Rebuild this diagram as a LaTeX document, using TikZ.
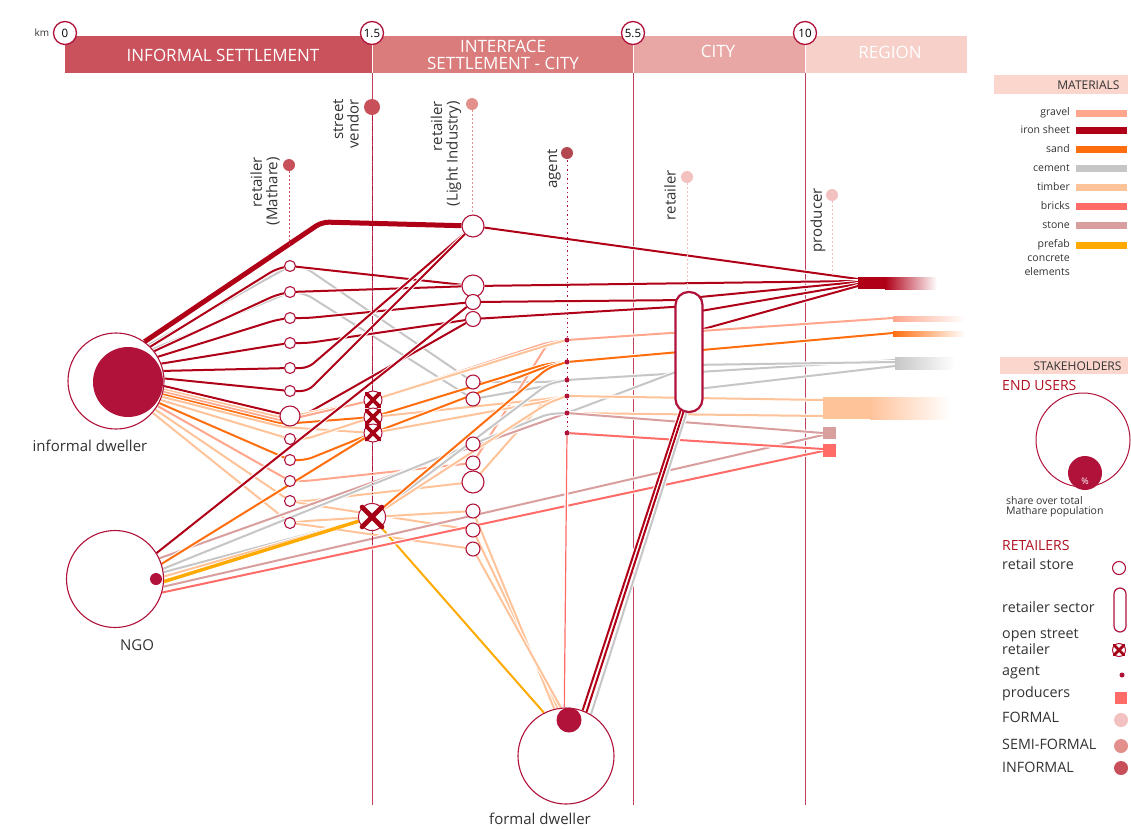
\documentclass[tikz,border=0pt]{standalone}
\usepackage{fontspec}
\setmainfont{Open Sans}
\usetikzlibrary{calc}
\pgfdeclarelayer{back}
\pgfdeclarelayer{flows}
\pgfsetlayers{back,flows,main}
\definecolor{nodec}{HTML}{B0123A}
\definecolor{ironc}{HTML}{B00018}
\definecolor{gravelc}{HTML}{FFA68C}
\definecolor{sandc}{HTML}{FF6E0E}
\definecolor{cementc}{HTML}{C6C6C6}
\definecolor{timberc}{HTML}{FFC39A}
\definecolor{bricksc}{HTML}{FF6B66}
\definecolor{stonec}{HTML}{D99E9E}
\definecolor{prefabc}{HTML}{FFAA00}
\definecolor{hdrA}{HTML}{C9525C}
\definecolor{hdrB}{HTML}{DA7C7C}
\definecolor{hdrC}{HTML}{E8A7A5}
\definecolor{hdrD}{HTML}{F6D0C9}
\definecolor{boxc}{HTML}{FAD6CC}
\definecolor{informalc}{HTML}{C8505A}
\definecolor{semic}{HTML}{E38F8C}
\definecolor{formalc}{HTML}{F3C2C0}
\definecolor{txt}{HTML}{333333}
\definecolor{xred}{HTML}{A50015}
\definecolor{redtxt}{HTML}{B01020}
\definecolor{bndc}{HTML}{C0405A}
\begin{document}
\begin{tikzpicture}[x=1pt,y=-1pt,
  fl/.style={line width=2pt, rounded corners=7pt, preaction={draw=white,line width=4pt}},
  iron/.style={fl,draw=ironc},
  grav/.style={fl,draw=gravelc},
  sand/.style={fl,draw=sandc},
  cem/.style={fl,draw=cementc},
  timb/.style={fl,draw=timberc},
  brick/.style={fl,draw=bricksc},
  ston/.style={fl,draw=stonec},
  pref/.style={fl,draw=prefabc},
  ret/.style={circle, draw=nodec, fill=white, line width=1.1pt, inner sep=0pt, minimum size=#1},
  agentdot/.style={circle, fill=nodec, inner sep=0pt, minimum size=5pt},
  xnode/.style={circle, draw=nodec, fill=white, line width=1pt, inner sep=0pt, minimum size=#1},
  xmark/.style={draw=xred, line width=3.6pt, line cap=round},
  stk/.style={rotate=90, anchor=east, align=right, inner sep=0pt, text=txt, font=\fontsize{15}{15.5}\selectfont},
  guide/.style={draw=#1, line width=1pt, dash pattern=on 1.5pt off 2.5pt},
  kmc/.style={circle, draw=nodec, fill=white, line width=1.3pt, minimum size=23pt, inner sep=0pt, font=\fontsize{11.5}{12}\selectfont},
  hdr/.style={text=white, align=center, font=\fontsize{17}{17}\selectfont},
  lg/.style={anchor=west, text=txt, inner sep=0pt, align=left, font=\fontsize{14.3}{16.5}\selectfont},
  mat/.style={anchor=east, text=txt, inner sep=0pt, align=right, font=\fontsize{10.5}{14}\selectfont},
  bnd/.style={draw=bndc, line width=0.8pt}
]
\useasboundingbox (0,0) rectangle (1131,828);
\begin{pgfonlayer}{back}
\fill[white] (0,0) rectangle (1131,828);
\draw[bnd] (372,73) -- (372,805);
\draw[bnd] (633,73) -- (633,805);
\draw[bnd] (805,73) -- (805,805);
\end{pgfonlayer}

% ---------- header ----------
\fill[hdrA] (65,36) rectangle (372,73);
\fill[hdrB] (372,36) rectangle (633,73);
\fill[hdrC] (633,36) rectangle (805,73);
\fill[hdrD] (805,36) rectangle (967,73);
\draw[white, line width=1pt] (372,40) -- (372,73) (633,40) -- (633,73) (805,40) -- (805,73);
\node[hdr] (hIS) at (223,55) {INFORMAL SETTLEMENT};
\node[hdr] (hIF) at (503,55) {INTERFACE\\[-0.5pt]SETTLEMENT - CITY};
\node[hdr] (hCI) at (718,51) {CITY};
\node[hdr] (hRE) at (890,52) {REGION};
\node[font=\fontsize{10}{11}\selectfont, text=txt] (km) at (42,33) {km};
\node[kmc] (k0) at (65,33) {0};
\node[kmc] (k1) at (372,33) {1.5};
\node[kmc] (k2) at (633,33) {5.5};
\node[kmc] (k3) at (805,33) {10};

% ---------- stakeholder columns ----------
\draw[guide=informalc] (289,171) -- (289,245);
\draw[nodec, line width=0.9pt, dash pattern=on 5pt off 2pt on 1pt off 2pt] (372,116) -- (372,545);
\draw[guide=semic] (472,110) -- (472,214);
\draw[nodec, line width=0.9pt, dash pattern=on 1.5pt off 3pt] (567,160) -- (567,433);
\draw[guide=formalc] (687,183) -- (687,290);
\draw[guide=formalc] (832,201) -- (832,276);
\fill[informalc] (289,165) circle (6pt);
\fill[informalc] (372,107) circle (8pt);
\fill[semic] (472,104) circle (6pt);
\fill[informalc!90!black] (567,153) circle (6pt);
\fill[formalc] (687,177) circle (6pt);
\fill[formalc] (832,195) circle (6pt);
\node[stk] (sMa) at (265,157) {retailer\\(Mathare)};
\node[stk] (sSV) at (346,99) {street\\vendor};
\node[stk] (sLI) at (446,101) {retailer\\(Light Industry)};
\node[stk] (sAg) at (554,149) {agent};
\node[stk] (sCi) at (670,170) {retailer};
\node[stk] (sPr) at (818,188) {producer};

% ---------- end users ----------
\node[circle, draw=nodec, fill=white, line width=1.1pt, minimum size=96pt, inner sep=0pt] (D) at (116,381) {};
\fill[nodec] (128,382) circle (35pt);
\node[text=txt, font=\fontsize{15}{16}\selectfont] (Dl) at (90,446) {informal dweller};
\node[circle, draw=nodec, fill=white, line width=1.1pt, minimum size=97pt, inner sep=0pt] (NGO) at (115,579) {};
\fill[nodec] (156,579) circle (6pt);
\node[text=txt, font=\fontsize{15}{16}\selectfont] (Nl) at (137,645) {NGO};
\node[circle, draw=nodec, fill=white, line width=1.1pt, minimum size=96pt, inner sep=0pt] (F) at (566,756) {};
\fill[nodec] (569,720) circle (12.5pt);
\node[text=txt, font=\fontsize{15}{16}\selectfont] (Fl) at (540,819) {formal dweller};

% ---------- retailers ----------
\node[ret=11pt] (M1) at (290,266) {};
\node[ret=11pt] (M2) at (290,292) {};
\node[ret=11pt] (M3) at (290,318) {};
\node[ret=11pt] (M4) at (290,343) {};
\node[ret=11pt] (M5) at (290,368) {};
\node[ret=11pt] (M6) at (290,391) {};
\node[ret=20pt] (M7) at (290,416) {};
\node[ret=11pt] (M8) at (290,439) {};
\node[ret=11pt] (M9) at (290,460) {};
\node[ret=11pt] (M10) at (290,481) {};
\node[ret=11pt] (M11) at (290,501) {};
\node[ret=11pt] (M12) at (290,523) {};
\node[ret=22pt] (L1) at (473,226) {};
\node[ret=22pt] (L2) at (473,286) {};
\node[ret=15pt] (L3) at (473,302) {};
\node[ret=15pt] (L4) at (473,319) {};
\node[ret=14pt] (L5) at (473,382) {};
\node[ret=14pt] (L6) at (473,399) {};
\node[ret=14pt] (L7) at (473,444) {};
\node[ret=14pt] (L8) at (473,463) {};
\node[ret=22pt] (L9) at (473,482) {};
\node[ret=14pt] (L10) at (473,511) {};
\node[ret=14pt] (L11) at (473,530) {};
\node[ret=14pt] (L12) at (473,549) {};
\node[xnode=18pt] (X1) at (373,400) {};
\node[xnode=18pt] (X2) at (373,417) {};
\node[xnode=18pt] (X3) at (373,433) {};
\node[xnode=27pt] (X4) at (372,517) {};
\foreach \n in {X1,X2,X3} \draw[xmark] (\n.north west) -- (\n.south east) (\n.north east) -- (\n.south west);
\draw[xmark, line width=4.8pt] (X4.north west) -- (X4.south east) (X4.north east) -- (X4.south west);
\node[agentdot] (A1) at (567,340) {};
\node[agentdot] (A2) at (567,362) {};
\node[agentdot] (A3) at (567,380) {};
\node[agentdot] (A4) at (567,396) {};
\node[agentdot] (A5) at (567,413) {};
\node[agentdot] (A6) at (567,433) {};
\node[draw=nodec, fill=white, line width=2.2pt, rounded corners=13pt, minimum width=27pt, minimum height=120pt, inner sep=0pt] (S) at (689,352) {};

% ---------- producers / materials ends ----------
\fill[ironc] (858,277) rectangle (885,289);
\shade[left color=ironc, right color=white] (885,277) rectangle (937,289);
\shade[left color=gravelc, right color=white] (893,316) rectangle (965,321);
\shade[left color=sandc, right color=white] (893,331) rectangle (965,336);
\shade[left color=cementc, right color=white] (895,357) rectangle (955,369);
\fill[timberc] (823,397) rectangle (870,419);
\shade[left color=timberc, right color=white] (870,397) rectangle (950,419);
\fill[stonec] (823,427) rectangle (836,439);
\fill[bricksc] (823,444) rectangle (836,457);

% ---------- flows ----------
\begin{pgfonlayer}{flows}
% informal dweller, upper
\draw[cem] (D.48) -- (M1);
\draw[cem] (D.41) -- (M2);
\draw[iron, line width=5pt] (D.54) -- (322,222) -- (L1);
\draw[iron] (D.45) -- (276,269) -- (M1);
\draw[iron] (D.38) -- (276,295) -- (M2);
\draw[iron] (D.30) -- (276,320) -- (M3);
\draw[iron] (D.21) -- (276,345) -- (M4);
\draw[iron] (D.12) -- (M5);
\draw[iron] (D.3) -- (M6);
\draw[iron] (D.-6) -- (M7);
% Mathare -> light industry
\draw[cem] (M1) -- (306,268) -- (L5.center) -- (546,382) -- (A3);
\draw[cem] (M2) -- (306,294) -- (L6.center) -- (546,386) -- (A3);
\draw[iron] (M1) -- (L2);
\draw[iron] (M2) -- (L2);
\draw[iron] (M3) -- (308,318) -- (L3);
\draw[iron] (M4) -- (308,343) -- (L4);
\draw[iron] (M5) -- (308,368) -- (L1);
\draw[iron] (M6) -- (308,391) -- (L1);
\draw[iron] (M7) -- (306,414) -- (L4);
% light industry -> sector / producer
\draw[iron] (L1) -- (858,279);
\draw[iron] (L2) -- (858,281);
\draw[iron] (L3) -- (689,300);
\draw[iron] (L4) -- (689,306);
\draw[iron] (689,298) -- (858,282);
\draw[iron] (689,313) -- (858,284);
\draw[iron] (689,333) -- (858,286);
% informal dweller, lower
\draw[timb] (D.-10) -- (283,418) -- (X1);
\draw[grav] (D.-13) -- (283,421) -- (X1);
\draw[sand] (D.-16) -- (283,424) -- (X2);
\draw[timb] (D.-19) -- (283,427) -- (X3);
\draw[timb] (D.-23) -- (M8);
\draw[sand] (D.-27) -- (M9);
\draw[grav] (D.-31) -- (M10);
\draw[timb] (D.-36) -- (M11);
\draw[timb] (D.-41) -- (M12);
\draw[timb] (M8) -- (306,439) -- (X2);
\draw[sand] (M9) -- (306,460) -- (X3);
\draw[grav] (M10) -- (306,481) -- (L8.center) -- (548,343) -- (A1);
\draw[timb] (M11) -- (306,501) -- (L9.center) -- (546,399) -- (A4);
\draw[timb] (M11) -- (306,504) -- (L11.center) -- (F.100);
\draw[timb] (M12) -- (306,521) -- (L10.center) -- (F.104);
\draw[timb] (M12) -- (306,525) -- (L12.center) -- (F.96);
% crosses -> agents
\draw[grav] (X1) -- (546,343) -- (A1);
\draw[timb] (X1) -- (548,345) -- (A1);
\draw[sand] (X2) -- (546,364) -- (A2);
\draw[timb] (X2) -- (546,399) -- (A4);
\draw[sand] (X3) -- (548,366) -- (A2);
\draw[timb] (X3) -- (548,401) -- (A4);
% NGO
\draw[iron] (NGO.32) -- (L3);
\draw[ston] (NGO.25) -- (A5);
\draw[sand] (NGO.18) -- (X3);
\draw[cem] (NGO.12) -- (L7.center) -- (548,414) -- (A5);
\draw[cem] (NGO.8) -- (X4.center) -- (548,384) -- (A3);
\draw[timb] (NGO.3) -- (X4.center) -- (548,403) -- (A4);
\draw[sand] (X4) -- (548,368) -- (A2);
\draw[pref, line width=3.4pt] (NGO.-3) -- (X4);
\draw[pref] (X4) -- (F.117);
\draw[ston] (NGO.-9) -- (823,435);
\draw[brick] (NGO.-16) -- (823,451);
% agents -> right
\draw[grav] (A1) -- (893,318);
\draw[sand] (A2) -- (893,333);
\draw[cem] (A3) -- (895,360);
\draw[cem] (A5) -- (689,367);
\draw[cem] (689,365) -- (895,362);
\draw[cem] (689,390) -- (895,366);
\draw[timb] (A4) -- (823,400);
\draw[timb] (A5) -- (823,416);
\draw[ston] (A5) -- (823,433);
\draw[brick] (A6) -- (823,449);
\draw[brick, line width=1.2pt] (A6) -- (F.92);
% sector -> formal dweller
\draw[iron] (689,385) -- (F.70);
\draw[iron] (689,395) -- (F.65);
\draw[cem] (689,405) -- (F.59);
\end{pgfonlayer}

% ---------- legend ----------
\fill[boxc] (994,75) rectangle (1128,94);
\node[anchor=east, text=txt, font=\fontsize{12}{13}\selectfont] (lMat) at (1123,85) {MATERIALS};
\node[mat] (g1) at (1070,113) {gravel};
\node[mat] (g2) at (1070,130) {iron sheet};
\node[mat] (g3) at (1070,149) {sand};
\node[mat] (g4) at (1070,168) {cement};
\node[mat] (g5) at (1070,187) {timber};
\node[mat] (g6) at (1070,206) {bricks};
\node[mat] (g7) at (1070,225) {stone};
\node[mat, anchor=north east] (g8) at (1070,239) {prefab\\concrete\\elements};
\fill[gravelc] (1076,110) rectangle (1127,117);
\fill[ironc] (1076,127) rectangle (1127,134);
\fill[sandc] (1076,146) rectangle (1127,153);
\fill[cementc] (1076,165) rectangle (1127,172);
\fill[timberc] (1076,184) rectangle (1127,191);
\fill[bricksc] (1076,203) rectangle (1127,210);
\fill[stonec] (1076,222) rectangle (1127,229);
\fill[prefabc] (1076,242) rectangle (1127,249);

\fill[boxc] (1000,357) rectangle (1128,374);
\node[anchor=east, text=txt, font=\fontsize{12}{13}\selectfont] (lSt) at (1125,366) {STAKEHOLDERS};
\node[anchor=west, inner sep=0pt, text=redtxt, font=\fontsize{14}{15}\selectfont] (lEU) at (1002,385) {END USERS};
\node[circle, draw=nodec, line width=1pt, minimum size=94pt, inner sep=0pt] (eu) at (1083,440) {};
\fill[nodec] (1085,473) circle (17pt);
\node[text=white, font=\fontsize{9}{9}\selectfont] (pct) at (1085,481) {\%};
\node[anchor=west, inner sep=0pt, text=txt, align=left, font=\fontsize{10.5}{9.5}\selectfont] (share) at (1006,507) {share over total\\Mathare population};
\node[anchor=west, inner sep=0pt, text=redtxt, font=\fontsize{14}{15}\selectfont] (lRE) at (1002,545) {RETAILERS};
\node[lg] (r1) at (1002,564) {retail store};
\node[ret=13pt] (ri1) at (1119,568) {};
\node[lg] (r2) at (1002,607) {retailer sector};
\node[draw=nodec, line width=1.2pt, rounded corners=6pt, minimum width=12pt, minimum height=44pt, inner sep=0pt] (ri2) at (1120,610) {};
\node[lg] (r3) at (1002,642) {open street\\retailer};
\node[xnode=13pt] (ri3) at (1119,650) {};
\draw[xmark, line width=2.8pt] (ri3.north west) -- (ri3.south east) (ri3.north east) -- (ri3.south west);
\node[lg] (r4) at (1002,672) {agent};
\node[agentdot] (ri4) at (1122,675) {};
\node[lg] (r5) at (1002,694) {producers};
\fill[bricksc] (1115,692) rectangle (1127,704);
\node[lg] (r6) at (1002,717) {FORMAL};
\fill[formalc] (1121,720) circle (7pt);
\node[lg] (r7) at (1002,744) {SEMI-FORMAL};
\fill[semic] (1121,746) circle (7pt);
\node[lg] (r8) at (1002,767) {INFORMAL};
\fill[informalc] (1121,768) circle (7pt);
\end{tikzpicture}
\end{document}
